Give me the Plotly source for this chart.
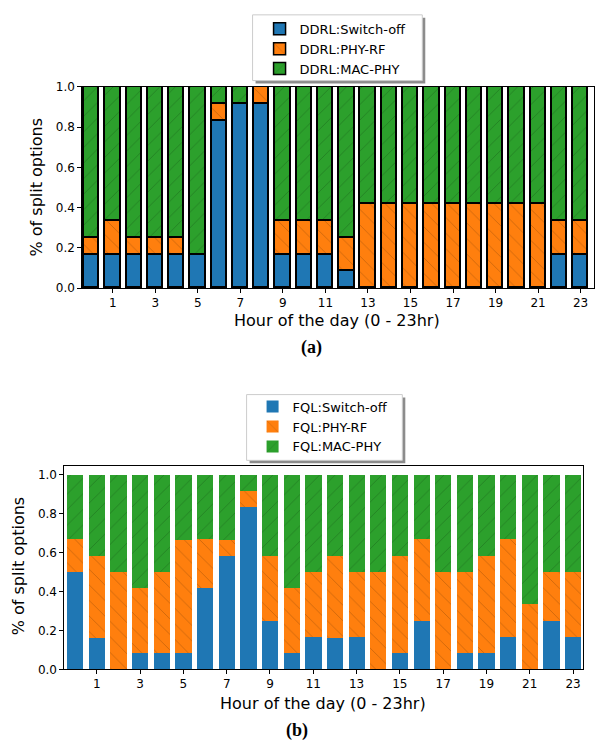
import plotly.graph_objects as go

hours = list(range(24))
tick_vals = list(range(1, 24, 2))
tick_text = [str(v) for v in tick_vals]
y_ticks = [0.0, 0.2, 0.4, 0.6, 0.8, 1.0]

# DDRL (top panel)
ddrl_switch = [0.167, 0.167, 0.167, 0.167, 0.167, 0.167, 0.833, 0.917, 0.917, 0.167, 0.167, 0.167,
               0.083, 0.0, 0.0, 0.0, 0.0, 0.0, 0.0, 0.0, 0.0, 0.0, 0.167, 0.167]
ddrl_phy = [0.083, 0.167, 0.083, 0.083, 0.083, 0.0, 0.083, 0.0, 0.083, 0.167, 0.167, 0.167,
            0.167, 0.417, 0.417, 0.417, 0.417, 0.417, 0.417, 0.417, 0.417, 0.417, 0.167, 0.167]
ddrl_mac = [0.75, 0.667, 0.75, 0.75, 0.75, 0.833, 0.083, 0.083, 0.0, 0.667, 0.667, 0.667,
            0.75, 0.583, 0.583, 0.583, 0.583, 0.583, 0.583, 0.583, 0.583, 0.583, 0.667, 0.667]

# FQL (bottom panel)
fql_switch = [0.5, 0.16, 0.0, 0.083, 0.083, 0.083, 0.417, 0.583, 0.833, 0.25, 0.083, 0.167,
              0.16, 0.167, 0.0, 0.083, 0.25, 0.0, 0.083, 0.083, 0.167, 0.0, 0.25, 0.167]
fql_phy = [0.167, 0.423, 0.5, 0.333, 0.417, 0.583, 0.25, 0.083, 0.083, 0.333, 0.333, 0.333,
           0.423, 0.333, 0.5, 0.5, 0.417, 0.5, 0.417, 0.5, 0.5, 0.333, 0.25, 0.333]
fql_mac = [0.333, 0.417, 0.5, 0.583, 0.5, 0.333, 0.333, 0.333, 0.083, 0.417, 0.583, 0.5,
           0.417, 0.5, 0.5, 0.417, 0.333, 0.5, 0.5, 0.417, 0.333, 0.667, 0.5, 0.5]

BLUE, ORANGE, GREEN = "#1f77b4", "#ff7f0e", "#2ca02c"
W, H = 595, 746
FONT = "DejaVu Sans"

def px(x):
    return x / W

def py(y):
    return 1 - y / H

fig = go.Figure()

def add_bar(y, name, color, shape, xa, ya, legend, edge):
    marker = dict(color=color)
    if shape:
        marker["pattern"] = dict(shape=shape, fgcolor="rgba(0,0,0,0.45)", size=11, solidity=0.07)
    marker["line"] = dict(color="black", width=1.5) if edge else dict(width=0)
    fig.add_trace(go.Bar(x=hours, y=y, name=name, marker=marker, xaxis=xa, yaxis=ya,
                         legend=legend, width=0.72 if edge else 0.75))

add_bar(ddrl_switch, "DDRL:Switch-off", BLUE, "", "x", "y", "legend", True)
add_bar(ddrl_phy, "DDRL:PHY-RF", ORANGE, "\\", "x", "y", "legend", True)
add_bar(ddrl_mac, "DDRL:MAC-PHY", GREEN, "/", "x", "y", "legend", True)
add_bar(fql_switch, "FQL:Switch-off", BLUE, "", "x2", "y2", "legend2", False)
add_bar(fql_phy, "FQL:PHY-RF", ORANGE, "\\", "x2", "y2", "legend2", False)
add_bar(fql_mac, "FQL:MAC-PHY", GREEN, "/", "x2", "y2", "legend2", False)

axis_common = dict(showline=True, linecolor="black", linewidth=1, mirror=True,
                   ticks="outside", ticklen=3.5, tickcolor="black", tickwidth=1,
                   showgrid=False, zeroline=False,
                   tickfont=dict(family=FONT, size=12, color="black"))

legend_common = dict(xanchor="left", yanchor="top", traceorder="normal",
                     bgcolor="rgba(0,0,0,0)", borderwidth=0,
                     font=dict(family=FONT, size=13, color="black"))

fig.update_layout(
    width=W, height=H, barmode="stack", bargap=0,
    paper_bgcolor="white", plot_bgcolor="white",
    margin=dict(l=0, r=0, t=0, b=0),
    showlegend=True,
    xaxis=dict(domain=[px(82), 1.0], range=[-0.455, 23.63], tickvals=tick_vals, ticktext=tick_text,
               anchor="y", **axis_common),
    yaxis=dict(domain=[py(286.5), py(81.5)], range=[0, 1.0], tickvals=y_ticks, tickformat=".1f",
               anchor="x", **axis_common),
    xaxis2=dict(domain=[px(64), px(584)], range=[-0.52, 23.46], tickvals=tick_vals, ticktext=tick_text,
                anchor="y2", **axis_common),
    yaxis2=dict(domain=[py(675), py(468)], range=[0, 1.045], tickvals=y_ticks, tickformat=".1f",
                anchor="x2", **axis_common),
    legend=dict(x=px(260), y=py(7), **legend_common),
    legend2=dict(x=px(253), y=py(392), **legend_common),
)

# legend frames with shadows
for (x0, y0, x1, y1) in [(253, 8, 423, 75), (247, 395, 403, 462)]:
    fig.add_shape(type="rect", xref="paper", yref="paper",
                  x0=px(x0 + 3), x1=px(x1 + 3), y0=py(y1 + 3), y1=py(y0 + 3),
                  fillcolor="rgba(0,0,0,0.45)", line=dict(width=0), layer="above")
    fig.add_shape(type="rect", xref="paper", yref="paper",
                  x0=px(x0), x1=px(x1), y0=py(y1), y1=py(y0),
                  fillcolor="white", line=dict(color="#cccccc", width=1), layer="above")

ann_font = dict(family=FONT, size=16, color="black")
fig.add_annotation(text="Hour of the day (0 - 23hr)", x=px(338), y=py(320), xref="paper", yref="paper",
                   showarrow=False, font=ann_font, xanchor="center", yanchor="middle")
fig.add_annotation(text="Hour of the day (0 - 23hr)", x=px(324), y=py(710), xref="paper", yref="paper",
                   showarrow=False, font=ann_font, xanchor="center", yanchor="middle")
fig.add_annotation(text="% of split options", x=px(37), y=py(184), xref="paper", yref="paper",
                   showarrow=False, font=ann_font, textangle=-90, xanchor="center", yanchor="middle")
fig.add_annotation(text="% of split options", x=px(18), y=py(570), xref="paper", yref="paper",
                   showarrow=False, font=ann_font, textangle=-90, xanchor="center", yanchor="middle")
cap_font = dict(family="Liberation Serif", size=18, color="black")
fig.add_annotation(text="<b>(a)</b>", x=px(312), y=py(347), xref="paper", yref="paper",
                   showarrow=False, font=cap_font, xanchor="center", yanchor="middle")
fig.add_annotation(text="<b>(b)</b>", x=px(298), y=py(737), xref="paper", yref="paper",
                   showarrow=False, font=cap_font, xanchor="center", yanchor="middle")

fig.write_html("out.html", config={"displayModeBar": False},
               post_script="document.body.style.margin='0';")
